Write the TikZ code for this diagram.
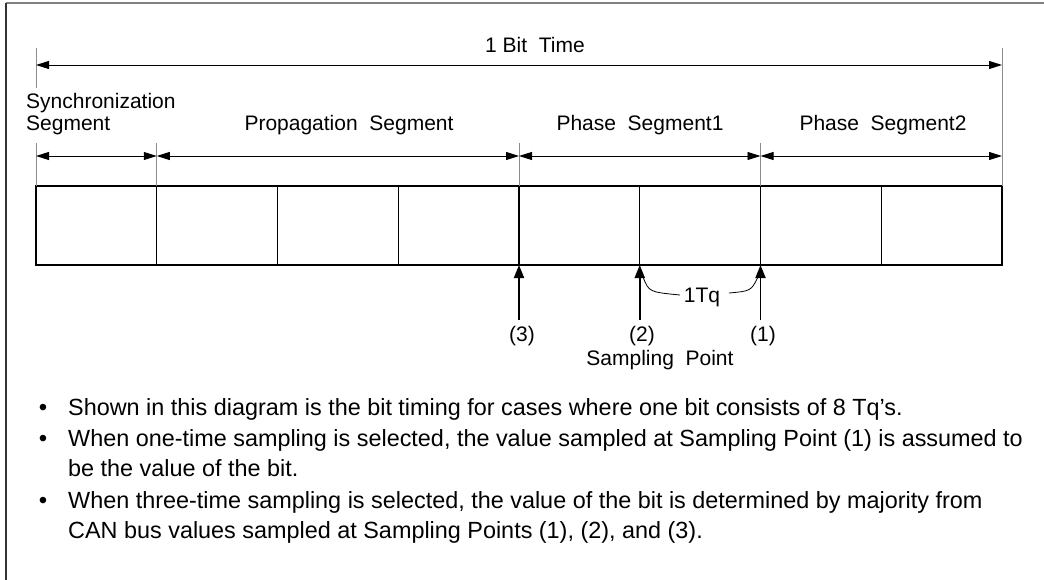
\documentclass[tikz,border=0pt]{standalone}
\usepackage{fontspec}
\setmainfont{Liberation Sans}
\usetikzlibrary{arrows.meta}
\begin{document}
\begin{tikzpicture}[x=1pt,y=-1pt,
  cell/.style={draw,line width=1.4pt,minimum width=120.75pt,minimum height=79pt,inner sep=0pt,outer sep=0pt,anchor=north west},
  lbl/.style={font=\fontsize{21}{25}\selectfont,inner sep=0pt,anchor=base},
  dimline/.style={line width=0.9pt,{Triangle[length=13pt,width=8pt]}-{Triangle[length=13pt,width=8pt]}},
  guide/.style={draw=black!45,line width=0.8pt},
  uparrow/.style={line width=1.8pt,-{Triangle[length=13pt,width=10pt]}},
  bultext/.style={font=\fontsize{23.4}{28}\selectfont,inner sep=0pt,anchor=base west},
  bulmark/.style={font=\fontsize{24}{28}\selectfont,inner sep=0pt,anchor=base}]
\useasboundingbox (0,0) rectangle (1044,580);
\draw[black!50,line width=1.4pt] (1044,3) -- (6,3);
\draw[black!80,line width=1.4pt] (6,3) -- (6,580);

% cells
\foreach \i in {0,...,7} \node[cell] (c\i) at ({36+\i*120.75},186) {};

% guide coordinates
\coordinate (gLt) at (36,48);
\coordinate (gLb) at (36,88);
\coordinate (gLs) at (36,143);
\coordinate (gRt) at (1002,48);
\coordinate (gA) at (156.75,143);
\coordinate (gB) at (519,143);
\coordinate (gC) at (760.5,143);
\draw[guide] (gLt) -- (gLb);
\draw[guide] (gLs) -- (c0.north west);
\draw[guide] (gRt) -- (c7.north east);
\draw[guide] (gA) -- (c0.north east);
\draw[guide] (gB) -- (c3.north east);
\draw[guide] (gC) -- (c5.north east);

% dimension lines
\coordinate (bL) at (36,65);
\coordinate (bR) at (1002,65);
\draw[dimline] (bL) -- (bR);
\coordinate (s0) at (36,156);
\coordinate (s1) at (156.75,156);
\coordinate (s2) at (519,156);
\coordinate (s3) at (760.5,156);
\coordinate (s4) at (1002,156);
\draw[dimline] (s0) -- (s1);
\draw[dimline] (s1) -- (s2);
\draw[dimline] (s2) -- (s3);
\draw[dimline] (s3) -- (s4);

% labels
\node[lbl] (tbit) at (535,53) {1 Bit\ \ Time};
\node[lbl,anchor=base west] (sync1) at (26,109) {Synchronization};
\node[lbl,anchor=base west] (sync2) at (26,131) {Segment};
\node[lbl] (prop) at (349,131) {Propagation\ \ Segment};
\node[lbl] (ph1) at (640,131) {Phase\ \ Segment1};
\node[lbl] (ph2) at (883,131) {Phase\ \ Segment2};

% sampling arrows
\coordinate (a3) at (519,320);
\coordinate (a2) at (639.75,320);
\coordinate (a1) at (760.5,320);
\draw[uparrow] (a3) -- (c3.south east);
\draw[uparrow] (a2) -- (c5.south west);
\draw[uparrow] (a1) -- (c6.south west);
\node[lbl] (n3) at (522,341) {(3)};
\node[lbl] (n2) at (642,341) {(2)};
\node[lbl] (n1) at (763,341) {(1)};
\node[lbl] (sp) at (660,365) {Sampling\ \ Point};
\node[lbl] (tq) at (702,302) {1Tq};
\coordinate (tqL) at (680,295);
\coordinate (tqR) at (729,293);
\coordinate (k2) at (643,277);
\coordinate (k1) at (758,277);
\draw[line width=0.8pt] (k2) .. controls (649,292) .. (tqL);
\draw[line width=0.8pt] (tqR) .. controls (751,291) .. (k1);

% bullets
\node[bulmark] (d1) at (43,415) {•};
\node[bultext] (t1) at (68,415) {Shown in this diagram is the bit timing for cases where one bit consists of 8 Tq's.};
\node[bulmark] (d2) at (43,446) {•};
\node[bultext] (t2a) at (68,446) {When one-time sampling is selected, the value sampled at Sampling Point (1) is assumed to};
\node[bultext] (t2b) at (68,476) {be the value of the bit.};
\node[bulmark] (d3) at (43,508) {•};
\node[bultext] (t3a) at (68,508) {When three-time sampling is selected, the value of the bit is determined by majority from};
\node[bultext] (t3b) at (68,538) {CAN bus values sampled at Sampling Points (1), (2), and (3).};
\end{tikzpicture}
\end{document}
